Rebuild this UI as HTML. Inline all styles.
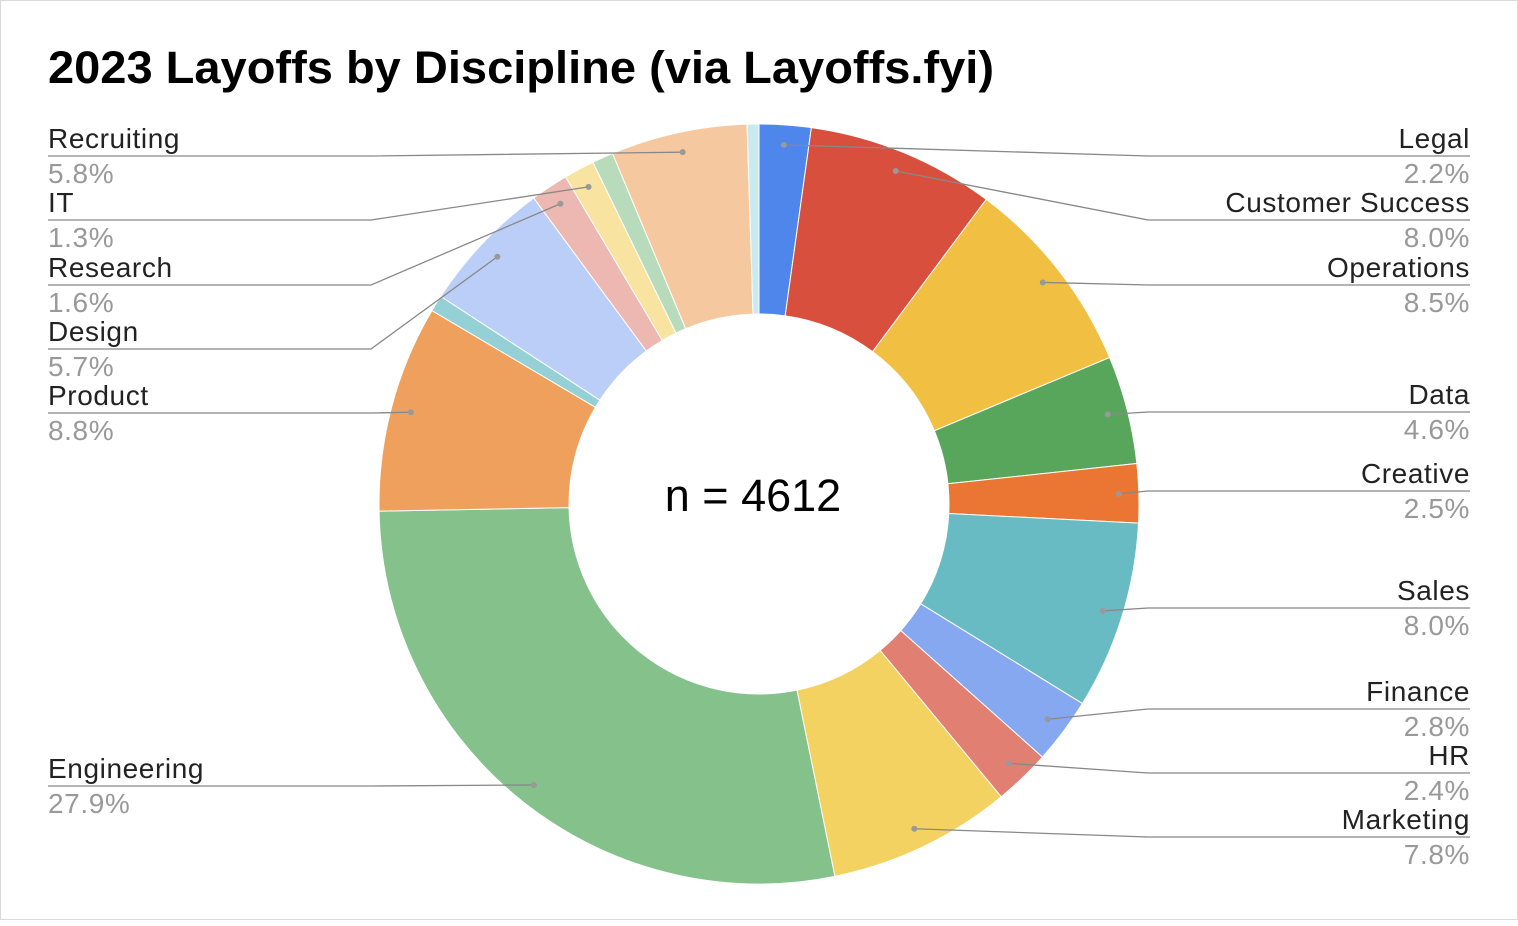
<!DOCTYPE html>
<html><head><meta charset="utf-8"><style>
html,body{margin:0;padding:0;background:#fff;}
#frame{position:absolute;left:0;top:0;width:1516px;height:918px;border:1px solid #d9d9d9;background:#fff;}
svg text{font-family:"Liberation Sans",Arial,sans-serif;}
</style></head><body>
<div id="frame">
<svg id="chart" width="1518" height="920">
<text x="47" y="82" font-size="45" font-weight="bold" fill="#000" textLength="946" lengthAdjust="spacingAndGlyphs">2023 Layoffs by Discipline (via Layoffs.fyi)</text>
<text x="752" y="510" font-size="45" text-anchor="middle" fill="#000">n = 4612</text>
</svg>
</div>
<script>
const categories=["Legal","Customer Success","Operations","Data","Creative","Sales","Finance","HR","Marketing","Engineering","Product","Other A","Design","Research","IT","Other C","Recruiting","Other D"];
const values=[2.2,8.0,8.5,4.6,2.5,8.0,2.8,2.4,7.8,27.9,8.8,0.7,5.7,1.6,1.3,0.9,5.8,0.5];
const labelled=[true,true,true,true,true,true,true,true,true,true,true,false,true,true,true,false,true,false];
const colors=["#4f86ec","#d94f3d","#f1bf42","#58a65c","#eb7532","#69bbc3","#85a8f0","#e17f72","#f4d262","#84c18b","#f0a05d","#95d0d6","#bbcef7","#ecb8b1","#f8e4a0","#b8dcbb","#f6c89f","#c9eaee"];
const labelY={"Legal":155,"Customer Success":219,"Operations":284,"Data":411,"Creative":490,"Sales":607,"Finance":708,"HR":772,"Marketing":836,"Recruiting":155,"IT":219,"Research":284,"Design":348,"Product":412,"Engineering":785};
const svg=document.getElementById('chart');
const NS='http://www.w3.org/2000/svg';
const cx=758,cy=503,R=380,r=190,RD=360;
const total=values.reduce((a,b)=>a+b,0);
function pt(ang,rad){return [cx+rad*Math.sin(ang),cy-rad*Math.cos(ang)];}
let a0=0;
const g=document.createElementNS(NS,'g');svg.appendChild(g);
const lg=document.createElementNS(NS,'g');svg.appendChild(lg);
values.forEach((v,i)=>{
 if(v<=0)return;
 const a1=a0+v/total*2*Math.PI;
 const [x0,y0]=pt(a0,R),[x1,y1]=pt(a1,R),[x2,y2]=pt(a1,r),[x3,y3]=pt(a0,r);
 const lf=(a1-a0)>Math.PI?1:0;
 const p=document.createElementNS(NS,'path');
 p.setAttribute('d',`M${x0},${y0}A${R},${R} 0 ${lf} 1 ${x1},${y1}L${x2},${y2}A${r},${r} 0 ${lf} 0 ${x3},${y3}Z`);
 p.setAttribute('fill',colors[i]);
 p.setAttribute('stroke','#fff');p.setAttribute('stroke-width','1');
 
 
 g.appendChild(p);
 if(labelled[i]){
  const am=(a0+a1)/2;const [dx,dy]=pt(am,RD);
  const right=Math.sin(am)>0;
  const ly=labelY[categories[i]];
  const ex=right?1147:370, tx=right?1469:47;
  const pl=document.createElementNS(NS,'polyline');
  pl.setAttribute('points',`${tx},${ly} ${ex},${ly} ${dx},${dy}`);
  pl.setAttribute('fill','none');pl.setAttribute('stroke','#888');pl.setAttribute('stroke-width','1.3');
  
  
  lg.appendChild(pl);
  const c=document.createElementNS(NS,'circle');
  c.setAttribute('cx',dx);c.setAttribute('cy',dy);c.setAttribute('r','3');c.setAttribute('fill','#999');
  
  
  lg.appendChild(c);
  const t1=document.createElementNS(NS,'text');
  t1.setAttribute('x',tx);t1.setAttribute('y',ly-8);t1.setAttribute('font-size','28');t1.setAttribute('fill','#222');
  t1.setAttribute('letter-spacing','0.6');
  t1.setAttribute('text-anchor',right?'end':'start');t1.textContent=categories[i];
  
  
  lg.appendChild(t1);
  const t2=document.createElementNS(NS,'text');
  t2.setAttribute('x',tx);t2.setAttribute('y',ly+27);t2.setAttribute('font-size','28');t2.setAttribute('fill','#999');
  t2.setAttribute('letter-spacing','0.6');
  t2.setAttribute('text-anchor',right?'end':'start');t2.textContent=v.toFixed(1)+'%';
  
  
  lg.appendChild(t2);
 }
 a0=a1;
});
</script>
</body></html>
